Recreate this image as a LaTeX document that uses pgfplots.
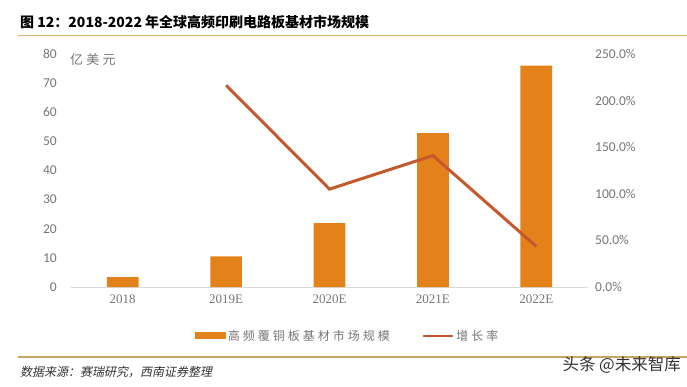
\documentclass[border=0pt]{standalone}
\usepackage{fontspec}
\usepackage{pgfplots}
\pgfplotsset{compat=1.18}
\setmainfont{Liberation Serif}
\newfontfamily\cjk{Noto Sans CJK SC}
\newfontfamily\cjkls{Noto Sans CJK SC}[LetterSpace=25]
\newfontfamily\cjksl{Noto Sans CJK SC}[FakeSlant=0.2]
\newfontfamily\carlito{Carlito}
\definecolor{barc}{RGB}{227,130,26}
\definecolor{linec}{RGB}{196,89,45}
\definecolor{tickc}{RGB}{118,118,118}
\definecolor{rulec}{RGB}{224,184,124}
\definecolor{brulec}{RGB}{205,165,95}
\definecolor{axc}{RGB}{217,217,217}
\begin{document}
\begin{tikzpicture}[x=1pt,y=1pt]
\useasboundingbox (0,0) rectangle (687,386);
% title and rules
\node[anchor=west,inner sep=0pt] at (20,364) {\cjk\bfseries\fontsize{14}{14}\selectfont 图 12：2018-2022 年全球高频印刷电路板基材市场规模};
\draw[rulec,line width=1.4pt] (18,350.5) -- (687,350.5);
\draw[brulec,line width=1.4pt] (18,29) -- (687,29);
\node[anchor=west,inner sep=0pt,text=black!80] at (20,14) {\cjksl\fontsize{12}{12}\selectfont 数据来源：赛瑞研究，西南证券整理};
\node[anchor=east,inner sep=0pt,text=black!80] at (681,21) {\cjk\fontsize{16.5}{16.5}\selectfont 头条 @未来智库};
\node[anchor=west,inner sep=0pt,text=tickc] at (70,326) {\cjkls\fontsize{13}{13}\selectfont 亿美元};
\begin{axis}[
  at={(71pt,99pt)}, anchor=south west,
  width=517pt, height=233pt, scale only axis,
  xmin=-0.5, xmax=4.5, ymin=0, ymax=80,
  xtick={0,1,2,3,4}, xticklabels={2018,2019E,2020E,2021E,2022E},
  ytick={0,10,...,80},
  major tick length=0pt,
  separate axis lines,
  axis x line*=bottom,
  axis y line*=left,
  x axis line style={draw=axc,line width=0.8pt,-},
  y axis line style={draw=none},
  /pgf/number format/assume math mode=true,
  xticklabel style={font=\fontsize{13}{13}\selectfont, text=tickc, inner sep=0pt, anchor=north, yshift=-8pt},
  yticklabel style={font=\carlito\fontsize{13.5}{13.5}\selectfont, text=tickc, inner sep=0pt, anchor=east, xshift=-14pt},
  legend columns=2,
  legend style={at={(0.535,-0.210)}, anchor=center, draw=none, fill=none,
    font=\cjkls\fontsize{12}{12}\selectfont, text=tickc,
    /tikz/every even column/.append style={column sep=30pt}},
  legend cell align=left,
]
\addplot[ybar, bar width=31.7pt, fill=barc, draw=none,
  legend image code/.code={\fill[barc] (0pt,-3.5pt) rectangle (31pt,3.5pt);}]
  coordinates {(0,3.4) (1,10.5) (2,21.9) (3,52.8) (4,76.0)};
\addlegendentry{高频覆铜板基材市场规模}
\addlegendimage{legend image code/.code={\draw[linec,line width=2.5pt] (0pt,0pt) -- (30pt,0pt);}}
\addlegendentry{增长率}
\end{axis}
\begin{axis}[
  at={(71pt,99pt)}, anchor=south west,
  width=517pt, height=233pt, scale only axis,
  xmin=-0.5, xmax=4.5, ymin=0, ymax=250,
  xtick=\empty,
  ytick={0,50,...,250},
  major tick length=0pt,
  axis x line=none,
  axis y line*=right,
  y axis line style={draw=none},
  /pgf/number format/assume math mode=true,
  yticklabel={\pgfmathprintnumber[fixed,fixed zerofill,precision=1]{\tick}\%},
  yticklabel style={font=\carlito\fontsize{13.5}{13.5}\selectfont, text=tickc, inner sep=0pt, anchor=west, xshift=7pt},
]
\addplot[linec, line width=3pt] coordinates {(1,216.5) (2,105) (3,141) (4,43.5)};
\end{axis}
\end{tikzpicture}
\end{document}
